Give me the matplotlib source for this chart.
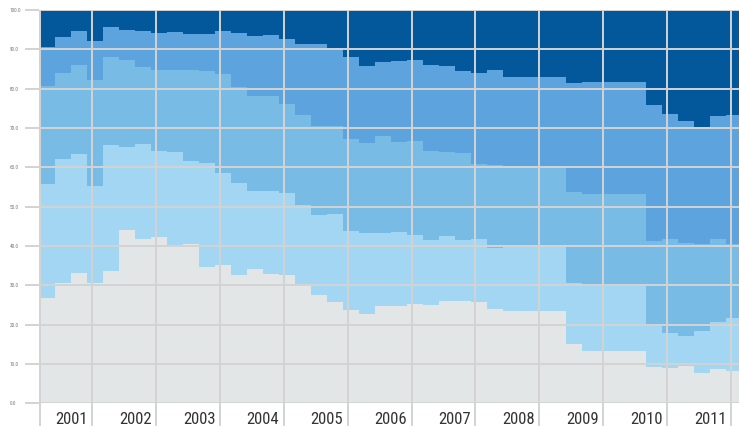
import numpy as np
import matplotlib
matplotlib.use("Agg")
import matplotlib.pyplot as plt
from matplotlib import font_manager
from matplotlib.ticker import FixedLocator

# quarterly shares (percent) of five groups, 2001 Q1 .. 2011 Q4
years = ['2001', '2002', '2003', '2004', '2005', '2006',
         '2007', '2008', '2009', '2010', '2011']

grey_share = [26.7, 30.7, 33.1, 30.6, 33.6, 44.1, 41.9, 42.2, 40.3, 40.4, 34.7,
              35.2, 32.6, 34.2, 32.9, 32.5, 30.3, 27.5, 25.8, 23.7, 22.6, 24.7,
              24.7, 25.3, 24.9, 26.0, 26.1, 25.7, 24.0, 23.5, 23.5, 23.5, 23.5,
              15.1, 13.4, 13.4, 13.4, 13.4, 9.3, 9.0, 9.6, 7.6, 8.7, 8.2]
pale_share = [29.1, 31.3, 30.2, 24.7, 32.1, 21.1, 24.0, 22.0, 23.6, 21.2, 26.3,
              23.3, 23.5, 19.9, 21.2, 20.9, 20.0, 20.4, 22.3, 20.0, 20.8, 18.5,
              18.8, 17.5, 16.5, 16.6, 15.4, 16.0, 15.4, 16.3, 16.3, 16.3, 16.3,
              15.4, 16.8, 16.8, 16.8, 16.8, 10.7, 8.9, 7.6, 10.8, 11.9, 13.6]
light_share = [24.9, 22.1, 22.7, 26.9, 22.3, 22.1, 19.7, 20.5, 20.8, 23.2, 23.5,
               25.2, 24.4, 24.1, 24.0, 22.7, 23.0, 22.6, 22.3, 23.6, 22.7, 24.7,
               22.9, 24.0, 22.8, 21.4, 22.2, 19.1, 21.1, 20.6, 20.6, 20.6, 20.6,
               23.1, 23.0, 23.0, 23.0, 23.0, 21.2, 23.8, 23.5, 22.1, 21.1, 18.7]
mid_share = [9.8, 9.1, 8.7, 9.9, 7.6, 7.7, 9.0, 9.5, 9.7, 9.0, 9.5,
             11.0, 13.7, 15.3, 15.5, 16.5, 18.0, 20.9, 20.0, 20.7, 19.7, 19.0,
             20.6, 20.5, 21.7, 21.7, 20.7, 23.1, 24.2, 22.5, 22.5, 22.5, 22.5,
             27.9, 28.5, 28.5, 28.5, 28.5, 34.7, 31.9, 31.2, 29.8, 31.4, 32.7]
dark_share = [9.5, 6.8, 5.3, 7.9, 4.4, 5.0, 5.4, 5.8, 5.6, 6.2, 6.0,
              5.3, 5.8, 6.5, 6.4, 7.4, 8.7, 8.6, 9.6, 12.0, 14.2, 13.1,
              13.0, 12.7, 14.1, 14.3, 15.6, 16.1, 15.3, 17.1, 17.1, 17.1, 17.1,
              18.5, 18.3, 18.3, 18.3, 18.3, 24.1, 26.4, 28.1, 29.7, 26.9, 26.8]

layers = [grey_share, pale_share, light_share, mid_share, dark_share]
colors = ['#e3e6e7', '#a2d6f3', '#78bce6', '#5da4df', '#03579b']


# pick a condensed face if one is installed, else fall back
def narrow_font():
    fonts = font_manager.fontManager.ttflist
    for key in ['Roboto Condensed', 'Liberation Sans Narrow', 'DejaVu Sans Condensed']:
        for f in fonts:
            if f.name == key and f.weight in (400, 'normal', 'regular') and f.style == 'normal':
                return font_manager.FontProperties(fname=f.fname)
    for f in fonts:
        if ('Condensed' in f.fname or 'Narrow' in f.fname) and 'Bold' not in f.fname \
                and 'Italic' not in f.fname and 'Oblique' not in f.fname:
            return font_manager.FontProperties(fname=f.fname)
    return font_manager.FontProperties(family='Liberation Sans')


fp = narrow_font()

fig = plt.figure(figsize=(7.39, 4.26), dpi=100)
ax = fig.add_axes([39.3 / 739, 22.7 / 426, 1 - 39.3 / 739, 393.3 / 426])

n = len(grey_share)
x = np.arange(n + 1)
bottom = np.zeros(n + 1)
for vals, col in zip(layers, colors):
    v = np.append(vals, vals[-1])
    ax.fill_between(x, bottom, bottom + v, step='post', color=col, lw=0, zorder=1)
    bottom = bottom + v

ax.set_xlim(0, 43.8)
ax.set_ylim(0, 100)

grid_col = '#d3d3d3'
ax.set_yticks(np.arange(0, 101, 10))
ax.set_yticklabels(['%.1f' % v for v in np.arange(0, 101, 10)], color='#777777', ha='left')
for t in ax.get_yticklabels():
    t.set_fontproperties(fp)
    t.set_fontsize(3.8)
ax.tick_params(axis='y', length=10, width=1.4, color=grid_col, pad=11.5)

# year labels in the middle of each year, boundaries as lines
ax.xaxis.set_major_locator(FixedLocator(np.arange(len(years)) * 4 + 2))
ax.set_xticklabels(years, color='#333333')
for t in ax.get_xticklabels():
    t.set_fontproperties(fp)
    t.set_fontsize(12)
ax.xaxis.set_minor_locator(FixedLocator(np.append(0.02, np.arange(len(years)) * 4 + 3.3)))
ax.tick_params(axis='x', which='major', length=0, pad=6)
ax.tick_params(axis='x', which='minor', length=17, width=1.4, color=grid_col)

ax.grid(True, axis='y', color=grid_col, lw=1.4, zorder=3)
ax.grid(True, axis='x', which='minor', color=grid_col, lw=1.4, zorder=3)
ax.set_axisbelow(False)
for s in ax.spines.values():
    s.set_visible(False)
ax.axvline(0.02, color=grid_col, lw=1.4, zorder=3)

fig.savefig('out.png', dpi=100)
